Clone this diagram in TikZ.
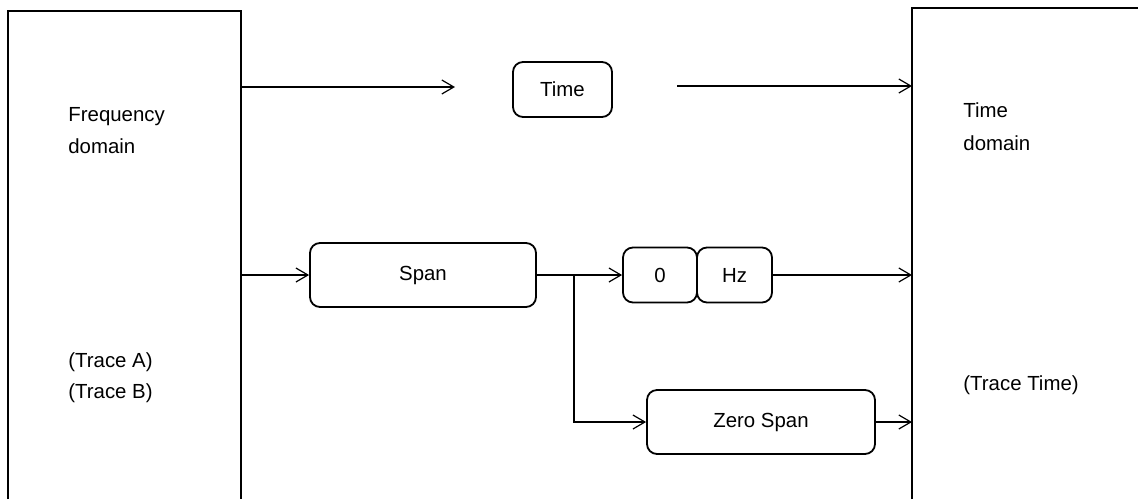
\documentclass[tikz,border=0pt]{standalone}
\usepackage{fontspec}
\setmainfont{Liberation Sans}
\usetikzlibrary{arrows.meta}
\begin{document}
\begin{tikzpicture}[x=0.5pt,y=-0.5pt,
  every node/.style={font=\fontsize{10.2}{12}\selectfont},
  rbox/.style={draw,line width=0.9pt,rounded corners=5pt,inner sep=0pt},
  lbl/.style={anchor=base west,inner sep=0pt},
  conn/.style={line width=0.6pt,-{Straight Barb[length=6pt,width=7pt,line width=0.6pt]}},
  frame/.style={line width=0.6pt}]
\useasboundingbox (0,0) rectangle (1138,499);
% domain frames
\draw[frame] (8,499) -- (8,11) -- (241,11) -- (241,499);
\draw[frame] (912,499) -- (912,8) -- (1138,8);
% labels
\node[lbl] (fq) at (68,121) {Frequency};
\node[lbl] (fd) at (68,153) {domain};
\node[lbl] (ta) at (68,367) {(Trace A)};
\node[lbl] (tb) at (68,398) {(Trace B)};
\node[lbl] (td1) at (963,117) {Time};
\node[lbl] (td2) at (963,150) {domain};
\node[lbl] (tt) at (963,390) {(Trace Time)};
% boxes
\node[rbox,minimum width=49.5pt,minimum height=27.5pt] (time) at (562.5,89.5) {Time};
\node[rbox,minimum width=113pt,minimum height=32pt] (span) at (423,275) {Span};
\node[rbox,minimum width=37pt,minimum height=27.5pt] (zero) at (660,275) {0};
\node[rbox,minimum width=37.5pt,minimum height=27.5pt] (hz) at (734.5,275) {Hz};
\node[rbox,minimum width=114pt,minimum height=32pt] (zspan) at (761,422) {Zero Span};
% coordinates
\coordinate (l1) at (241,87);
\coordinate (t1) at (455,87);
\coordinate (t2) at (677,86);
\coordinate (r1) at (912,86);
\coordinate (l2) at (241,275);
\coordinate (br) at (574,275);
\coordinate (r2) at (912,275);
\coordinate (r3) at (912,422);
% connectors
\draw[conn] (l1) -- (t1);
\draw[conn] (t2) -- (r1);
\draw[conn] (l2) -- (span.west);
\draw[conn] (span.east) -- (zero.west);
\draw[conn] (br) |- (zspan.west);
\draw[conn] (hz.east) -- (r2);
\draw[conn] (zspan.east) -- (r3);
\end{tikzpicture}
\end{document}
